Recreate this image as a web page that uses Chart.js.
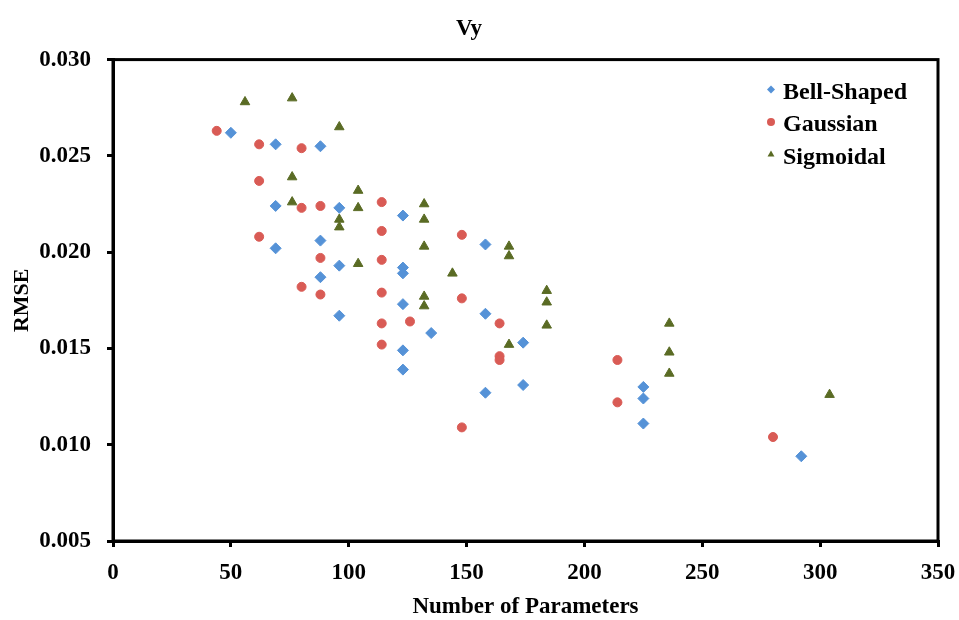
<!DOCTYPE html>
<html>
<head>
<meta charset="utf-8">
<script src="https://cdn.jsdelivr.net/npm/chart.js@4.4.0/dist/chart.umd.min.js"></script>
<style>
  html, body { margin: 0; padding: 0; background: #fff; }
  #wrap { width: 959px; height: 620px; }
</style>
</head>
<body>
<div id="wrap"><canvas id="scatterChart"></canvas></div>
<script>
// valores
const seriesNames = ['Bell-Shaped', 'Gaussian', 'Sigmoidal'];

const bellParams = [50, 69, 88, 69, 96, 123, 69, 88, 96, 158, 123, 123, 88, 96, 123, 158, 135, 174, 123, 123, 158, 174, 225, 225, 225, 292];
const bellRmse   = [0.0262, 0.0256, 0.0255, 0.0224, 0.0223, 0.0219, 0.0202, 0.0206, 0.0193, 0.0204, 0.0192, 0.0189, 0.0187, 0.0167, 0.0173, 0.0168, 0.0158, 0.0153, 0.0149, 0.0139, 0.0127, 0.0131, 0.0130, 0.0124, 0.0111, 0.0094];

const gaussParams = [44, 62, 80, 62, 80, 88, 114, 114, 62, 148, 88, 114, 80, 88, 114, 148, 114, 126, 164, 114, 164, 164, 214, 214, 148, 280];
const gaussRmse   = [0.0263, 0.0256, 0.0254, 0.0237, 0.0223, 0.0224, 0.0226, 0.0211, 0.0208, 0.0209, 0.0197, 0.0196, 0.0182, 0.0178, 0.0179, 0.0176, 0.0163, 0.0164, 0.0163, 0.0152, 0.0146, 0.0144, 0.0144, 0.0122, 0.0109, 0.0104];

const sigParams = [56, 76, 96, 76, 104, 76, 104, 96, 96, 132, 132, 132, 168, 168, 104, 144, 184, 132, 184, 132, 184, 236, 168, 236, 236, 304];
const sigRmse   = [0.0278, 0.0280, 0.0265, 0.0239, 0.0232, 0.0226, 0.0223, 0.0217, 0.0213, 0.0225, 0.0217, 0.0203, 0.0203, 0.0198, 0.0194, 0.0189, 0.0180, 0.0177, 0.0174, 0.0172, 0.0162, 0.0163, 0.0152, 0.0148, 0.0137, 0.0126];

const xTickValues = [0, 50, 100, 150, 200, 250, 300, 350];
const yTickValues = [0.005, 0.010, 0.015, 0.020, 0.025, 0.030];

const toPoints = (xs, ys) => xs.map((x, i) => ({ x: x, y: ys[i] }));

const serif = 'Liberation Serif, Times New Roman, serif';

const data = {
    datasets: [{
        label: seriesNames[0],
        data: toPoints(bellParams, bellRmse),
        pointStyle: 'rectRot',
        pointRadius: 5.5,
        backgroundColor: '#5592D7',
        borderColor: '#5592D7',
        borderWidth: 1
    }, {
        label: seriesNames[1],
        data: toPoints(gaussParams, gaussRmse),
        pointStyle: 'circle',
        pointRadius: 4.5,
        backgroundColor: '#D95B55',
        borderColor: '#D95B55',
        borderWidth: 1
    }, {
        label: seriesNames[2],
        data: toPoints(sigParams, sigRmse),
        pointStyle: 'triangle',
        pointRadius: 5.5,
        backgroundColor: '#5A6B24',
        borderColor: '#5A6B24',
        borderWidth: 1
    }]
};

// marco negro alrededor del area del grafico
const plotFrame = {
    id: 'plotFrame',
    beforeDatasetsDraw(chart) {
        const { ctx, chartArea: a } = chart;
        ctx.save();
        ctx.strokeStyle = '#000';
        ctx.lineWidth = 3;
        ctx.strokeRect(a.left, a.top, a.right - a.left, a.bottom - a.top);
        ctx.restore();
    }
};

// leyenda dentro del area, arriba a la derecha
const insideLegend = {
    id: 'insideLegend',
    afterDraw(chart) {
        const { ctx, chartArea: a } = chart;
        ctx.save();
        ctx.font = 'bold 24px ' + serif;
        ctx.textBaseline = 'middle';
        ctx.textAlign = 'left';
        chart.data.datasets.forEach((ds, i) => {
            const y = a.top + 33 + i * 32.5;
            const x = a.right - 167;
            ctx.fillStyle = ds.backgroundColor;
            Chart.helpers.drawPoint(ctx, {
                pointStyle: ds.pointStyle,
                radius: 4,
                rotation: 0,
                borderWidth: 0
            }, x, y - 3);
            ctx.fillStyle = '#000';
            ctx.fillText(ds.label, x + 12, y);
        });
        ctx.restore();
    }
};

const options = {
    responsive: true,
    maintainAspectRatio: false,
    animation: false,
    layout: { padding: { left: 0, right: 21, top: 0, bottom: 0 } },
    plugins: {
        legend: { display: false },
        tooltip: { enabled: false },
        title: {
            display: true,
            text: 'Vy',
            color: '#000',
            font: { family: serif, weight: 'bold', size: 23, lineHeight: 1.2 },
            padding: { top: 15, bottom: 17 }
        }
    },
    scales: {
        x: {
            type: 'linear',
            min: 0,
            max: 350,
            afterBuildTicks: (scale) => { scale.ticks = xTickValues.map(v => ({ value: v })); },
            afterFit: (scale) => {
                scale.height = 79;
                scale.paddingLeft = 0;
                scale.paddingRight = 0;
            },
            ticks: {
                color: '#000',
                padding: 12,
                font: { family: serif, weight: 'bold', size: 23 }
            },
            grid: { drawOnChartArea: false, drawTicks: true, tickLength: 6, color: '#000', lineWidth: 3 },
            border: { display: true, color: '#000', width: 3 },
            title: {
                display: true,
                text: 'Number of Parameters',
                color: '#000',
                font: { family: serif, weight: 'bold', size: 23, lineHeight: 1.2 },
                padding: { top: 0, bottom: -1 }
            }
        },
        y: {
            type: 'linear',
            min: 0.005,
            max: 0.030,
            afterBuildTicks: (scale) => { scale.ticks = yTickValues.map(v => ({ value: v })); },
            afterFit: (scale) => { scale.width = 113; },
            ticks: {
                color: '#000',
                padding: 16,
                font: { family: serif, weight: 'bold', size: 23 },
                callback: (v) => Number(v).toFixed(3)
            },
            grid: { drawOnChartArea: false, drawTicks: true, tickLength: 6, color: '#000', lineWidth: 3 },
            border: { display: true, color: '#000', width: 3 },
            title: {
                display: true,
                text: 'RMSE',
                color: '#000',
                font: { family: serif, weight: 'bold', size: 22, lineHeight: 1.2 },
                padding: { top: 9, bottom: 0 }
            }
        }
    }
};

let scatterChartInstance;
function createScatterChart() {
    const ctx = document.getElementById('scatterChart').getContext('2d');
    scatterChartInstance = new Chart(ctx, {
        type: 'scatter',
        data: data,
        options: options,
        plugins: [plotFrame, insideLegend]
    });
    return scatterChartInstance;
}

createScatterChart();
</script>
</body>
</html>
